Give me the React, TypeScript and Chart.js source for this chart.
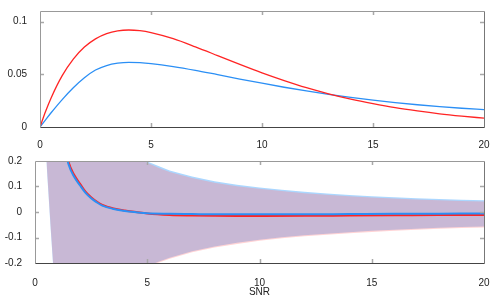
import React, { useEffect, useRef } from "react";
import { Chart, registerables } from "chart.js";
Chart.register(...registerables);

const FONT = "'Liberation Sans', Arial, sans-serif";

// ---- shared ticks ----
const xTicks = [0, 5, 10, 15, 20];
const topYTicks = [0, 0.05, 0.1];
const bottomYTicks = [-0.2, -0.1, 0, 0.1, 0.2];

// ---- top panel ----
const topX = [0, 0.25, 0.5, 1, 1.5, 2, 2.5, 3, 3.5, 4, 4.5, 5, 6, 7, 8, 9, 10, 11, 12, 13, 14, 15, 16, 17, 18, 19, 20];
const topRed = [0, 0.0147, 0.0276, 0.0487, 0.0644, 0.0758, 0.0836, 0.0886, 0.0912, 0.092, 0.0913, 0.0895, 0.0837, 0.076, 0.0677, 0.0593, 0.0513, 0.044, 0.0373, 0.0315, 0.0264, 0.0221, 0.0183, 0.0152, 0.0125, 0.0103, 0.0084];
const topBlue = [0, 0.0068, 0.0135, 0.026, 0.0372, 0.0467, 0.054, 0.0583, 0.0605, 0.0613, 0.061, 0.0601, 0.0573, 0.0537, 0.0496, 0.0455, 0.0415, 0.0377, 0.0342, 0.031, 0.0281, 0.0255, 0.0232, 0.0211, 0.0193, 0.0178, 0.0165];

// ---- bottom panel: mean lines ----
const botLineX = [1, 1.25, 1.5, 1.75, 2, 2.25, 2.5, 2.75, 3, 3.5, 4, 4.5, 5, 6, 7, 8, 9, 10, 12, 14, 16, 18, 20];
const botRed = [0.5, 0.3, 0.195, 0.145, 0.112, 0.08, 0.058, 0.041, 0.028, 0.014, 0.006, 0.0, -0.006, -0.012, -0.014, -0.015, -0.0155, -0.0155, -0.015, -0.014, -0.013, -0.012, -0.0115];
const botBlue = [0.48, 0.285, 0.185, 0.137, 0.105, 0.075, 0.054, 0.038, 0.025, 0.012, 0.004, -0.001, -0.005, -0.007, -0.008, -0.009, -0.009, -0.009, -0.009, -0.008, -0.007, -0.0065, -0.006];

// ---- bottom panel: bands ----
const bandX = [0.5, 0.6, 0.7, 0.8, 0.9, 1, 1.25, 1.5, 2, 2.5, 3, 3.5, 4, 4.5, 5, 5.5, 6, 7, 8, 9, 10, 11, 12, 13, 14, 15, 16, 17, 18, 19, 20];
const blueUpper = [3, 2.5, 2.2, 2, 1.8, 1.6, 1.2, 0.9, 0.6, 0.45, 0.35, 0.29, 0.25, 0.22, 0.198, 0.18, 0.163, 0.139, 0.121, 0.107, 0.096, 0.087, 0.079, 0.073, 0.067, 0.062, 0.058, 0.054, 0.051, 0.048, 0.046];
const blueLower = [0.21, 0.07, -0.07, -0.2, -0.33, -0.46, -0.71, -0.8, -0.746, -0.596, -0.446, -0.356, -0.286, -0.236, -0.214, -0.195, -0.179, -0.154, -0.135, -0.121, -0.109, -0.099, -0.0915, -0.085, -0.079, -0.074, -0.07, -0.066, -0.062, -0.059, -0.0565];
const redUpper = [2.9, 2.4, 2.1, 1.9, 1.7, 1.5, 1.15, 0.86, 0.57, 0.43, 0.335, 0.28, 0.24, 0.212, 0.193, 0.174, 0.157, 0.133, 0.115, 0.101, 0.091, 0.082, 0.074, 0.068, 0.062, 0.057, 0.053, 0.049, 0.046, 0.043, 0.041];
const redLower = [0.22, 0.08, -0.06, -0.19, -0.32, -0.45, -0.7, -0.8, -0.75, -0.6, -0.45, -0.36, -0.29, -0.24, -0.218, -0.199, -0.183, -0.158, -0.139, -0.125, -0.113, -0.103, -0.0955, -0.089, -0.083, -0.078, -0.074, -0.07, -0.066, -0.063, -0.0605];

const RED = "#ff2424";
const BLUE = "#2b8ff5";

const pts = (xs: number[], ys: number[]) => xs.map((x, i) => ({ x, y: ys[i] }));

const framePlugin = {
  id: "frame",
  afterDraw(chart: any, _args: any, opts: any) {
    const { ctx, chartArea: a, scales } = chart;
    const xs = scales.x;
    const ys = scales.y;
    ctx.save();
    ctx.strokeStyle = "#a8a8a8";
    ctx.lineWidth = 1.5;
    ctx.beginPath();
    for (const v of opts.xTicks as number[]) {
      const px = Math.round(xs.getPixelForValue(v)) + 0.5;
      ctx.moveTo(px, a.top);
      ctx.lineTo(px, a.top + 4);
      ctx.moveTo(px, a.bottom);
      ctx.lineTo(px, a.bottom - 4);
    }
    for (const v of opts.yTicks as number[]) {
      const py = Math.round(ys.getPixelForValue(v)) + 0.5;
      ctx.moveTo(a.left, py);
      ctx.lineTo(a.left + 4, py);
      ctx.moveTo(a.right, py);
      ctx.lineTo(a.right - 4, py);
    }
    ctx.stroke();
    ctx.lineWidth = 1;
    const L = Math.round(a.left) + 0.5;
    const R = Math.round(a.right) + 0.5;
    const T = Math.round(a.top) + 0.5;
    const B = Math.round(a.bottom) + 0.5;
    ctx.strokeStyle = "#999";
    ctx.beginPath();
    ctx.moveTo(L, B);
    ctx.lineTo(L, T);
    ctx.lineTo(R, T);
    ctx.stroke();
    ctx.strokeStyle = "#777";
    ctx.beginPath();
    ctx.moveTo(R, T);
    ctx.lineTo(R, B);
    ctx.stroke();
    ctx.strokeStyle = "#444";
    ctx.beginPath();
    ctx.moveTo(L, B);
    ctx.lineTo(R, B);
    ctx.stroke();
    ctx.restore();
  },
};

const tickFont = { family: FONT, size: 10 };

function makeScales(yMin: number, yMax: number, yTicks: number[], yWidth: number, xHeight: number, xPad: number, withTitle: boolean) {
  return {
    x: {
      type: "linear",
      min: 0,
      max: 20,
      afterBuildTicks: (s: any) => {
        s.ticks = xTicks.map((v) => ({ value: v }));
      },
      afterFit: (s: any) => {
        s.height = xHeight;
      },
      grid: { display: false },
      border: { display: false },
      ticks: { padding: xPad, color: "#222", font: tickFont, maxRotation: 0, autoSkip: false, callback: (v: any) => String(v) },
      title: withTitle
        ? { display: true, text: "SNR", color: "#222", font: tickFont, padding: { top: 0, bottom: 2 } }
        : { display: false },
    },
    y: {
      type: "linear",
      min: yMin,
      max: yMax,
      afterBuildTicks: (s: any) => {
        s.ticks = yTicks.map((v) => ({ value: v }));
      },
      afterFit: (s: any) => {
        s.width = yWidth;
      },
      grid: { display: false },
      border: { display: false },
      ticks: { padding: 5, color: "#222", font: tickFont, autoSkip: false, callback: (v: any) => String(v) },
    },
  };
}

export default function App() {
  const topRef = useRef<HTMLCanvasElement>(null);
  const botRef = useRef<HTMLCanvasElement>(null);

  useEffect(() => {
    const top = new Chart(topRef.current as HTMLCanvasElement, {
      type: "line",
      data: {
        datasets: [
          { data: pts(topX, topRed), borderColor: RED, borderWidth: 1.3, pointRadius: 0, fill: false, cubicInterpolationMode: "monotone" },
          { data: pts(topX, topBlue), borderColor: BLUE, borderWidth: 1.3, pointRadius: 0, fill: false, cubicInterpolationMode: "monotone" },
        ],
      },
      options: {
        responsive: false,
        animation: false,
        layout: { padding: { top: 10, right: 16, left: 0, bottom: 0 } },
        plugins: { legend: { display: false }, tooltip: { enabled: false }, frame: { xTicks: [5, 10, 15], yTicks: [0.05, 0.1] } } as any,
        scales: makeScales(0, 0.11, topYTicks, 40, 23, 4, false) as any,
      },
      plugins: [framePlugin],
    } as any);

    const bandStyle = (c: string) => ({
      borderColor: "rgba(0,0,0,0)",
      borderWidth: 1,
      backgroundColor: c,
      pointRadius: 0,
      tension: 0,
    });

    const bot = new Chart(botRef.current as HTMLCanvasElement, {
      type: "line",
      data: {
        datasets: [
          { data: pts(botLineX, botBlue), borderColor: BLUE, borderWidth: 2, pointRadius: 0, fill: false, cubicInterpolationMode: "monotone" },
          { data: pts(botLineX, botRed), borderColor: RED, borderWidth: 2, pointRadius: 0, fill: false, cubicInterpolationMode: "monotone" },
          { data: pts(bandX, redUpper), fill: "+1", ...bandStyle("rgba(255,130,135,0.35)") },
          { data: pts(bandX, redLower), fill: false, ...bandStyle("rgba(0,0,0,0)") },
          { data: pts(bandX, blueUpper), fill: "+1", ...bandStyle("rgba(13,140,255,0.35)") },
          { data: pts(bandX, blueLower), fill: false, ...bandStyle("rgba(0,0,0,0)") },
        ],
      },
      options: {
        responsive: false,
        animation: false,
        layout: { padding: { top: 11, right: 16, left: 0, bottom: 0 } },
        plugins: {
          legend: { display: false },
          tooltip: { enabled: false },
          filler: { drawTime: "beforeDatasetsDraw" },
          frame: { xTicks: [5, 10, 15], yTicks: [-0.1, 0, 0.1] },
        } as any,
        scales: makeScales(-0.2, 0.2, bottomYTicks, 35, 37, 6, true) as any,
      },
      plugins: [framePlugin],
    } as any);

    return () => {
      top.destroy();
      bot.destroy();
    };
  }, []);

  return (
    <div style={{ position: "fixed", left: 0, top: 0, width: 500, height: 300, background: "#fff" }}>
      <canvas ref={topRef} width={500} height={150} style={{ position: "absolute", left: 0, top: 0, width: 500, height: 150 }} />
      <canvas ref={botRef} width={500} height={150} style={{ position: "absolute", left: 0, top: 150, width: 500, height: 150 }} />
    </div>
  );
}
